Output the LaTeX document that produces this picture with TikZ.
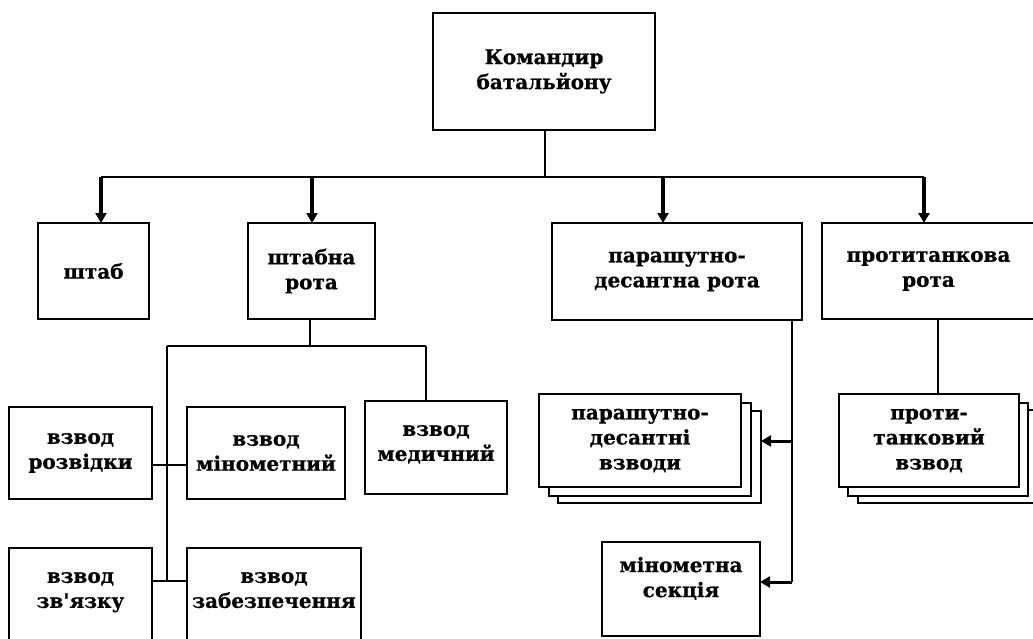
\documentclass[tikz,border=0pt]{standalone}
\usepackage{fontspec}
\setmainfont{DejaVu Serif}[Ligatures=TeXOff, BoldFeatures={FakeBold=0.7}]
\usetikzlibrary{arrows.meta}
\begin{document}
\begin{tikzpicture}[x=1pt,y=-1pt,
  box/.style={draw, line width=2pt, fill=white, align=center, inner sep=0pt,
    font=\fontsize{20}{25}\selectfont\bfseries},
  thin/.style={line width=1.6pt},
  arr/.style={line width=3.2pt, -{Triangle[length=10pt,width=11pt]}, shorten >=-1pt}]
\useasboundingbox (0,0) rectangle (1033,638);
% top
\node[box, minimum width=222pt, minimum height=117pt] (cmd) at (544,71.5) {Командир\\батальйону};
\node[box, minimum width=111pt, minimum height=96pt] (shtab) at (93.5,271) {штаб};
\node[box, minimum width=127pt, minimum height=96pt] (shr) at (311.5,271) {штабна\\рота};
\node[box, minimum width=250pt, minimum height=97pt] (pdr) at (677,271.5) {парашутно-\\десантна рота};
\node[box, minimum width=213pt, minimum height=96pt] (ptr) at (928.5,271) {протитанкова\\рота};
% staff company platoons
\node[box, minimum width=143pt, minimum height=92pt] (rozv) at (80.5,453) {взвод\\розвідки};
\node[box, minimum width=158pt, minimum height=92pt] (minv) at (266,453) {взвод\\мінометний};
\node[box, minimum width=142pt, minimum height=93pt] (med) at (436,447.5) {взвод\\медичний\\[-16pt]};
\node[box, minimum width=143pt, minimum height=93pt] (zv) at (80.5,594) {взвод\\зв'язку\\[-17pt]};
\node[box, minimum width=174pt, minimum height=93pt] (zab) at (274,594) {взвод\\забезпечення\\[-17pt]};
% paratroop platoons (stack)
\node[box, minimum width=203pt, minimum height=92pt] (pdv3) at (659.5,457) {};
\node[box, minimum width=202pt, minimum height=93pt] (pdv2) at (649.5,449.5) {};
\node[box, minimum width=202pt, minimum height=93pt] (pdv) at (640,440.5) {парашутно-\\десантні\\взводи};
\node[box, minimum width=158pt, minimum height=94pt] (mins) at (681,589) {мінометна\\секція\\[-1pt]};
% antitank platoons (stack)
\node[box, minimum width=181pt, minimum height=93pt] (ptv3) at (948,456.5) {};
\node[box, minimum width=180pt, minimum height=93pt] (ptv2) at (938,449.5) {};
\node[box, minimum width=180pt, minimum height=93pt] (ptv) at (929,440.5) {проти-\\танковий\\взвод};
% bus
\coordinate (b0) at (545,177);
\coordinate (b1) at (101,177);
\coordinate (b2) at (312,177);
\coordinate (b3) at (663,177);
\coordinate (b4) at (924,177);
\draw[thin] (cmd.south -| b0) -- (b0);
\draw[thin] (b1) -- (b4);
\draw[arr] (b1) -- (b1 |- shtab.north);
\draw[arr] (b2) -- (b2 |- shr.north);
\draw[arr] (b3) -- (b3 |- pdr.north);
\draw[arr] (b4) -- (b4 |- ptr.north);
% staff company tree
\coordinate (s0) at (310,346);
\coordinate (sl) at (167,346);
\coordinate (sr) at (426,346);
\coordinate (h1) at (167,465);
\coordinate (h2) at (167,581);
\draw[thin] (shr.south -| s0) -- (s0);
\draw[thin] (sl) -- (sr);
\draw[thin] (sl) -- (h2);
\draw[thin] (sr) -- (sr |- med.north);
\draw[thin] (rozv.east |- h1) -- (minv.west |- h1);
\draw[thin] (zv.east |- h2) -- (zab.west |- h2);
% paratroop company
\coordinate (p0) at (792,441);
\coordinate (p1) at (792,582);
\draw[thin] (pdr.south -| p0) -- (p1);
\draw[arr, line width=3pt] (p0) -- (pdv3.east |- p0);
\draw[arr, line width=3pt] (p1) -- (mins.east |- p1);
% antitank company
\coordinate (t0) at (938,330);
\draw[thin] (ptr.south -| t0) -- (t0 |- ptv.north);
\end{tikzpicture}
\end{document}
